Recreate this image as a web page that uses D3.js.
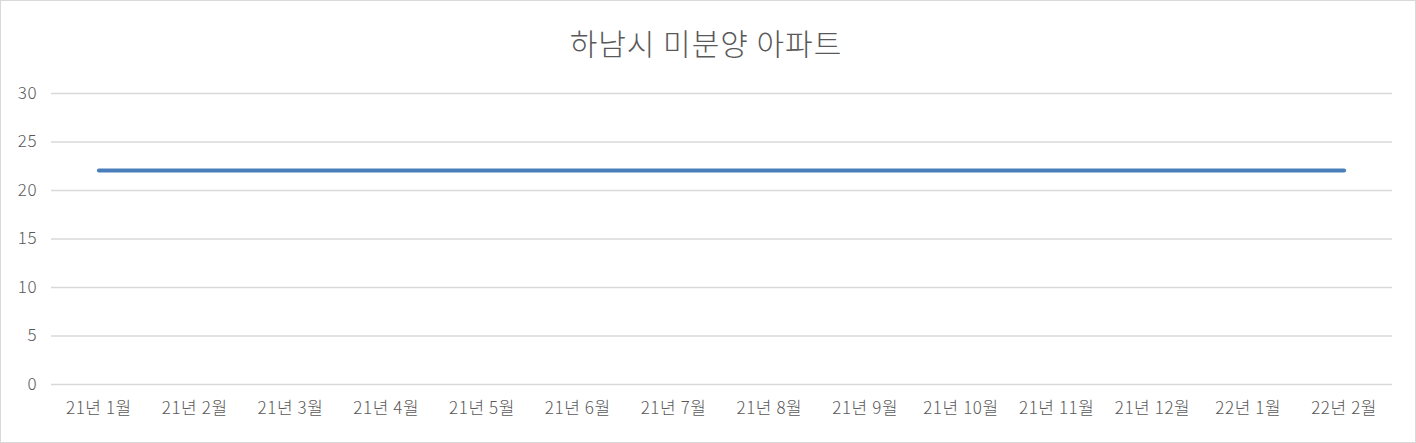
<!DOCTYPE html>
<html>
<head>
<meta charset="utf-8">
<script src="https://cdn.jsdelivr.net/npm/d3@7/dist/d3.min.js"></script>
<style>
body { margin:0; background:#fff; }
text { font-family:"Noto Sans CJK KR","Noto Sans",sans-serif; }
</style>
</head>
<body>
<svg id="chart" width="1416" height="443"></svg>
<script>
// data
var months = ['21년 1월','21년 2월','21년 3월','21년 4월','21년 5월','21년 6월','21년 7월',
              '21년 8월','21년 9월','21년 10월','21년 11월','21년 12월','22년 1월','22년 2월'];
var unsold = [22,22,22,22,22,22,22,22,22,22,22,22,22,22];
var yTicks = [0,5,10,15,20,25,30];
var chartTitle = '하남시 미분양 아파트';

var width = 1416, height = 443;
var margin = {left:51, right:24, top:93, bottom:59};
var colorText = '#595959';
var colorGrid = '#d9d9d9';
var colorLine = '#4a7ebb';
var fontStack = '"Noto Sans CJK KR","Noto Sans",sans-serif';

var svg = d3.select('#chart');

svg.append('rect')
   .attr('x',0.5).attr('y',0.5)
   .attr('width',width-1).attr('height',height-1)
   .attr('fill','#fff')
   .attr('stroke',colorGrid)
   .attr('stroke-width',1);

svg.append('text')
   .text(chartTitle)
   .attr('x',width/2 - 2)
   .attr('y',55)
   .attr('text-anchor','middle')
   .style('font-size','30px')
   .style('font-weight',300)
   .style('letter-spacing','1px')
   .style('fill',colorText);

var x = d3.scaleBand()
          .domain(months)
          .range([margin.left, width-margin.right]);

var y = d3.scaleLinear()
          .domain([0,30])
          .range([height-margin.bottom, margin.top]);

// grid + y labels
var yAxis = svg.append('g')
               .attr('transform','translate('+margin.left+',0)')
               .call(d3.axisLeft(y).tickValues(yTicks).tickSize(-(width-margin.left-margin.right)).tickPadding(14));
yAxis.select('.domain').remove();
yAxis.selectAll('line').attr('stroke',colorGrid).attr('stroke-width',1.5);
yAxis.selectAll('text').style('fill',colorText).style('font-size','17px').style('font-weight',300)
     .style('letter-spacing','0.5px').style('font-family',fontStack);

// x labels
var xAxis = svg.append('g')
               .attr('transform','translate(0,'+(height-margin.bottom)+')')
               .call(d3.axisBottom(x).tickSize(0).tickPadding(18));
xAxis.select('.domain').remove();
xAxis.selectAll('text').style('fill',colorText).style('font-size','17px').style('font-weight',300)
     .style('letter-spacing','0.6px').style('font-family',fontStack);

// line
var line = d3.line()
             .x(function(d,i){ return x(months[i]) + x.bandwidth()/2; })
             .y(function(d){ return y(d); });

svg.append('path')
   .datum(unsold)
   .attr('d',line)
   .attr('fill','none')
   .attr('stroke',colorLine)
   .attr('stroke-width',4)
   .attr('stroke-linecap','round');
</script>
</body>
</html>
